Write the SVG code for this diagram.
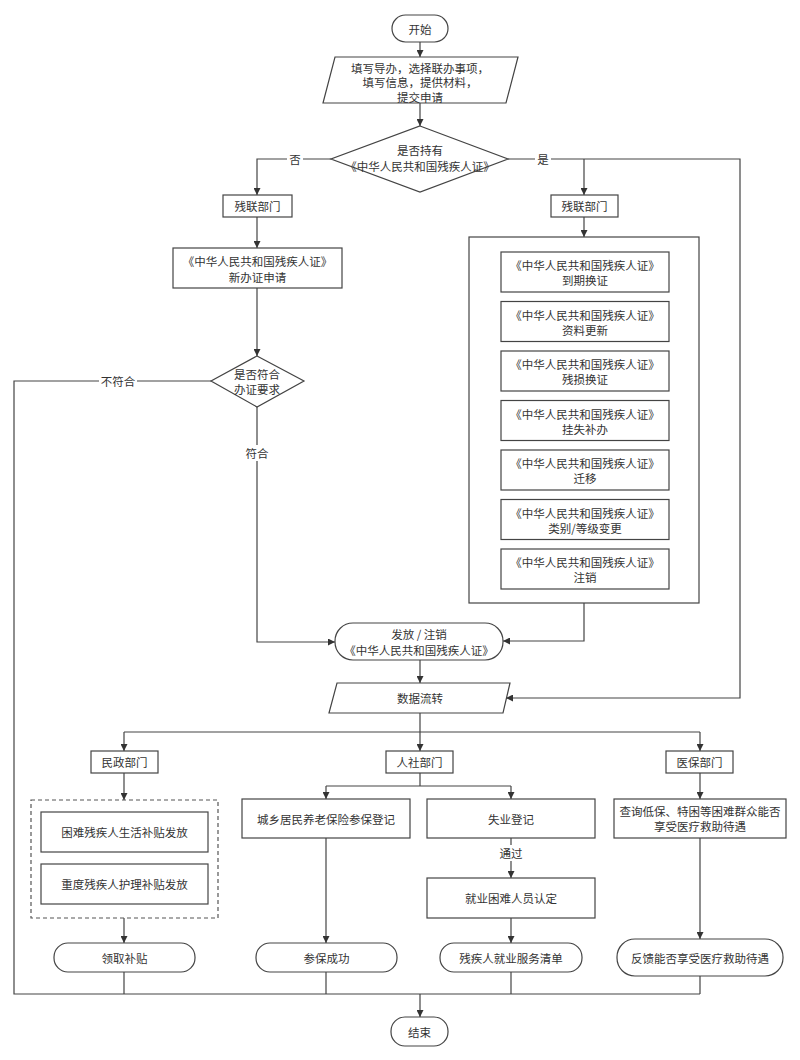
<svg xmlns="http://www.w3.org/2000/svg" width="800" height="1060" viewBox="0 0 800 1060">
<defs>
<marker id="arr" viewBox="0 0 10 10" refX="10" refY="5" markerWidth="7" markerHeight="7" orient="auto" markerUnits="userSpaceOnUse">
<path d="M0,0 L10,5 L0,10 Z" fill="#333"/>
</marker>
<style>
.n{fill:#fff;stroke:#444;stroke-width:1.2}
.d{fill:#fff;stroke:#555;stroke-width:1.2;stroke-dasharray:4 3}
.t{font-family:"Noto Sans CJK SC","Noto Sans",sans-serif;font-size:11.5px;fill:#333;text-anchor:middle;dominant-baseline:central}
.c{fill:none;stroke:#444;stroke-width:1.2}
.a{fill:none;stroke:#444;stroke-width:1.2;marker-end:url(#arr)}
.lb{fill:#fff}
</style>
</defs>
<rect width="800" height="1060" fill="#fff"/>

<g id="connectors">
<path class="a" d="M420,42 V57"/>
<path class="a" d="M420,103 V126"/>
<path class="a" d="M331,159 H257 V195"/>
<path class="a" d="M508,159 H740 V698 H506"/>
<path class="a" d="M584,159 V195"/>
<path class="a" d="M257,217 V248"/>
<path class="a" d="M257,288 V356"/>
<path class="c" d="M211,381 H14 V994 H700"/>
<path class="a" d="M257,407 V642 H335"/>
<path class="a" d="M584,217 V237"/>
<path class="a" d="M584,603 V641 H503"/>
<path class="a" d="M420,660 V683"/>
<path class="a" d="M420,713 V751"/>
<path class="c" d="M124,732 H700"/>
<path class="a" d="M124,732 V751"/>
<path class="a" d="M700,732 V751"/>
<path class="a" d="M124,773 V800"/>
<path class="a" d="M124,918 V943"/>
<path class="c" d="M124,972 V994"/>
<path class="c" d="M420,773 V786"/>
<path class="c" d="M326,786 H511"/>
<path class="a" d="M326,786 V799"/>
<path class="a" d="M511,786 V799"/>
<path class="a" d="M326,838 V943"/>
<path class="c" d="M326,972 V994"/>
<path class="a" d="M511,838 V878"/>
<path class="a" d="M511,918 V943"/>
<path class="c" d="M511,972 V994"/>
<path class="a" d="M700,773 V799"/>
<path class="a" d="M700,838 V939"/>
<path class="c" d="M700,976 V994"/>
<path class="a" d="M420,994 V1017"/>
<rect class="lb" x="287" y="151" width="16" height="16"/>
<text class="t" x="295" y="159">否</text>
<rect class="lb" x="535" y="151" width="16" height="16"/>
<text class="t" x="543" y="159">是</text>
<rect class="lb" x="99" y="373" width="38" height="16"/>
<text class="t" x="118" y="381">不符合</text>
<rect class="lb" x="244" y="445" width="26" height="16"/>
<text class="t" x="257" y="453">符合</text>
<rect class="lb" x="498" y="845" width="26" height="16"/>
<text class="t" x="511" y="853">通过</text>
</g>

<g id="start">
<rect class="n" x="392" y="15" width="56" height="27" rx="13.5"/>
<text class="t" x="420" y="28.5">开始</text>
</g>

<g id="apply">
<path class="n" d="M335,57 H518 L506,103 H323 Z"/>
<text class="t" x="420" y="67.5">填写导办，选择联办事项，</text>
<text class="t" x="420" y="82">填写信息，提供材料，</text>
<text class="t" x="420" y="96.5">提交申请</text>
</g>

<g id="hasCert">
<path class="n" d="M420,126 L508,159 L420,192 L331,159 Z"/>
<text class="t" x="420" y="150">是否持有</text>
<text class="t" x="420" y="166">《中华人民共和国残疾人证》</text>
</g>

<g id="dept-left">
<rect class="n" x="223" y="195" width="69" height="22"/>
<text class="t" x="257.5" y="206">残联部门</text>
</g>

<g id="dept-right">
<rect class="n" x="551" y="195" width="67" height="22"/>
<text class="t" x="584.5" y="206">残联部门</text>
</g>

<g id="newCert">
<rect class="n" x="173" y="248" width="169" height="40"/>
<text class="t" x="257.5" y="261">《中华人民共和国残疾人证》</text>
<text class="t" x="257.5" y="276.5">新办证申请</text>
</g>

<g id="meets">
<path class="n" d="M257,356 L304,381 L257,407 L211,381 Z"/>
<text class="t" x="257" y="374">是否符合</text>
<text class="t" x="257" y="389">办证要求</text>
</g>

<g id="services">
<rect class="n" x="469" y="237" width="230" height="366"/>
<rect class="n" x="501" y="252" width="168" height="40"/>
<text class="t" x="585" y="265">《中华人民共和国残疾人证》</text>
<text class="t" x="585" y="280">到期换证</text>
<rect class="n" x="501" y="301.5" width="168" height="40"/>
<text class="t" x="585" y="314.5">《中华人民共和国残疾人证》</text>
<text class="t" x="585" y="329.5">资料更新</text>
<rect class="n" x="501" y="351" width="168" height="40"/>
<text class="t" x="585" y="364">《中华人民共和国残疾人证》</text>
<text class="t" x="585" y="379">残损换证</text>
<rect class="n" x="501" y="400.5" width="168" height="40"/>
<text class="t" x="585" y="413.5">《中华人民共和国残疾人证》</text>
<text class="t" x="585" y="428.5">挂失补办</text>
<rect class="n" x="501" y="450" width="168" height="40"/>
<text class="t" x="585" y="463">《中华人民共和国残疾人证》</text>
<text class="t" x="585" y="478">迁移</text>
<rect class="n" x="501" y="499.5" width="168" height="40"/>
<text class="t" x="585" y="512.5">《中华人民共和国残疾人证》</text>
<text class="t" x="585" y="527.5">类别/等级变更</text>
<rect class="n" x="501" y="549" width="168" height="40"/>
<text class="t" x="585" y="562">《中华人民共和国残疾人证》</text>
<text class="t" x="585" y="577">注销</text>
</g>

<g id="issue">
<rect class="n" x="335" y="623" width="168" height="37" rx="18"/>
<text class="t" x="419" y="634">发放 / 注销</text>
<text class="t" x="419" y="649.5">《中华人民共和国残疾人证》</text>
</g>

<g id="dataflow">
<path class="n" d="M337,683 H510 L503,713 H329 Z"/>
<text class="t" x="420" y="698">数据流转</text>
</g>

<g id="civil">
<rect class="n" x="91" y="751" width="67" height="22"/>
<text class="t" x="124.5" y="762">民政部门</text>
</g>

<g id="hrss">
<rect class="n" x="386" y="751" width="67" height="22"/>
<text class="t" x="419.5" y="762">人社部门</text>
</g>

<g id="medical">
<rect class="n" x="666" y="751" width="67" height="22"/>
<text class="t" x="699.5" y="762">医保部门</text>
</g>

<g id="subsidies">
<rect class="d" x="31" y="800" width="187" height="118"/>
<rect class="n" x="41" y="812" width="167" height="40"/>
<text class="t" x="124.5" y="832">困难残疾人生活补贴发放</text>
<rect class="n" x="41" y="864" width="167" height="40"/>
<text class="t" x="124.5" y="884">重度残疾人护理补贴发放</text>
</g>

<g id="receive">
<rect class="n" x="54" y="943" width="141" height="29" rx="14"/>
<text class="t" x="124.5" y="957.5">领取补贴</text>
</g>

<g id="pension">
<rect class="n" x="242" y="799" width="168" height="39"/>
<text class="t" x="326" y="818.5">城乡居民养老保险参保登记</text>
</g>

<g id="pensionOk">
<rect class="n" x="256" y="943" width="141" height="29" rx="14"/>
<text class="t" x="326.5" y="957.5">参保成功</text>
</g>

<g id="unemp">
<rect class="n" x="427" y="799" width="168" height="39"/>
<text class="t" x="511" y="818.5">失业登记</text>
</g>

<g id="hardship">
<rect class="n" x="427" y="878" width="168" height="40"/>
<text class="t" x="511" y="898">就业困难人员认定</text>
</g>

<g id="jobList">
<rect class="n" x="440" y="943" width="142" height="29" rx="14"/>
<text class="t" x="511" y="957.5">残疾人就业服务清单</text>
</g>

<g id="query">
<rect class="n" x="614" y="799" width="172" height="39"/>
<text class="t" x="700" y="811">查询低保、特困等困难群众能否</text>
<text class="t" x="700" y="826">享受医疗救助待遇</text>
</g>

<g id="feedback">
<rect class="n" x="617" y="939" width="166" height="37" rx="18"/>
<text class="t" x="700" y="957.5">反馈能否享受医疗救助待遇</text>
</g>

<g id="end">
<rect class="n" x="391" y="1017" width="57" height="29" rx="14"/>
<text class="t" x="419.5" y="1031.5">结束</text>
</g>
</svg>
